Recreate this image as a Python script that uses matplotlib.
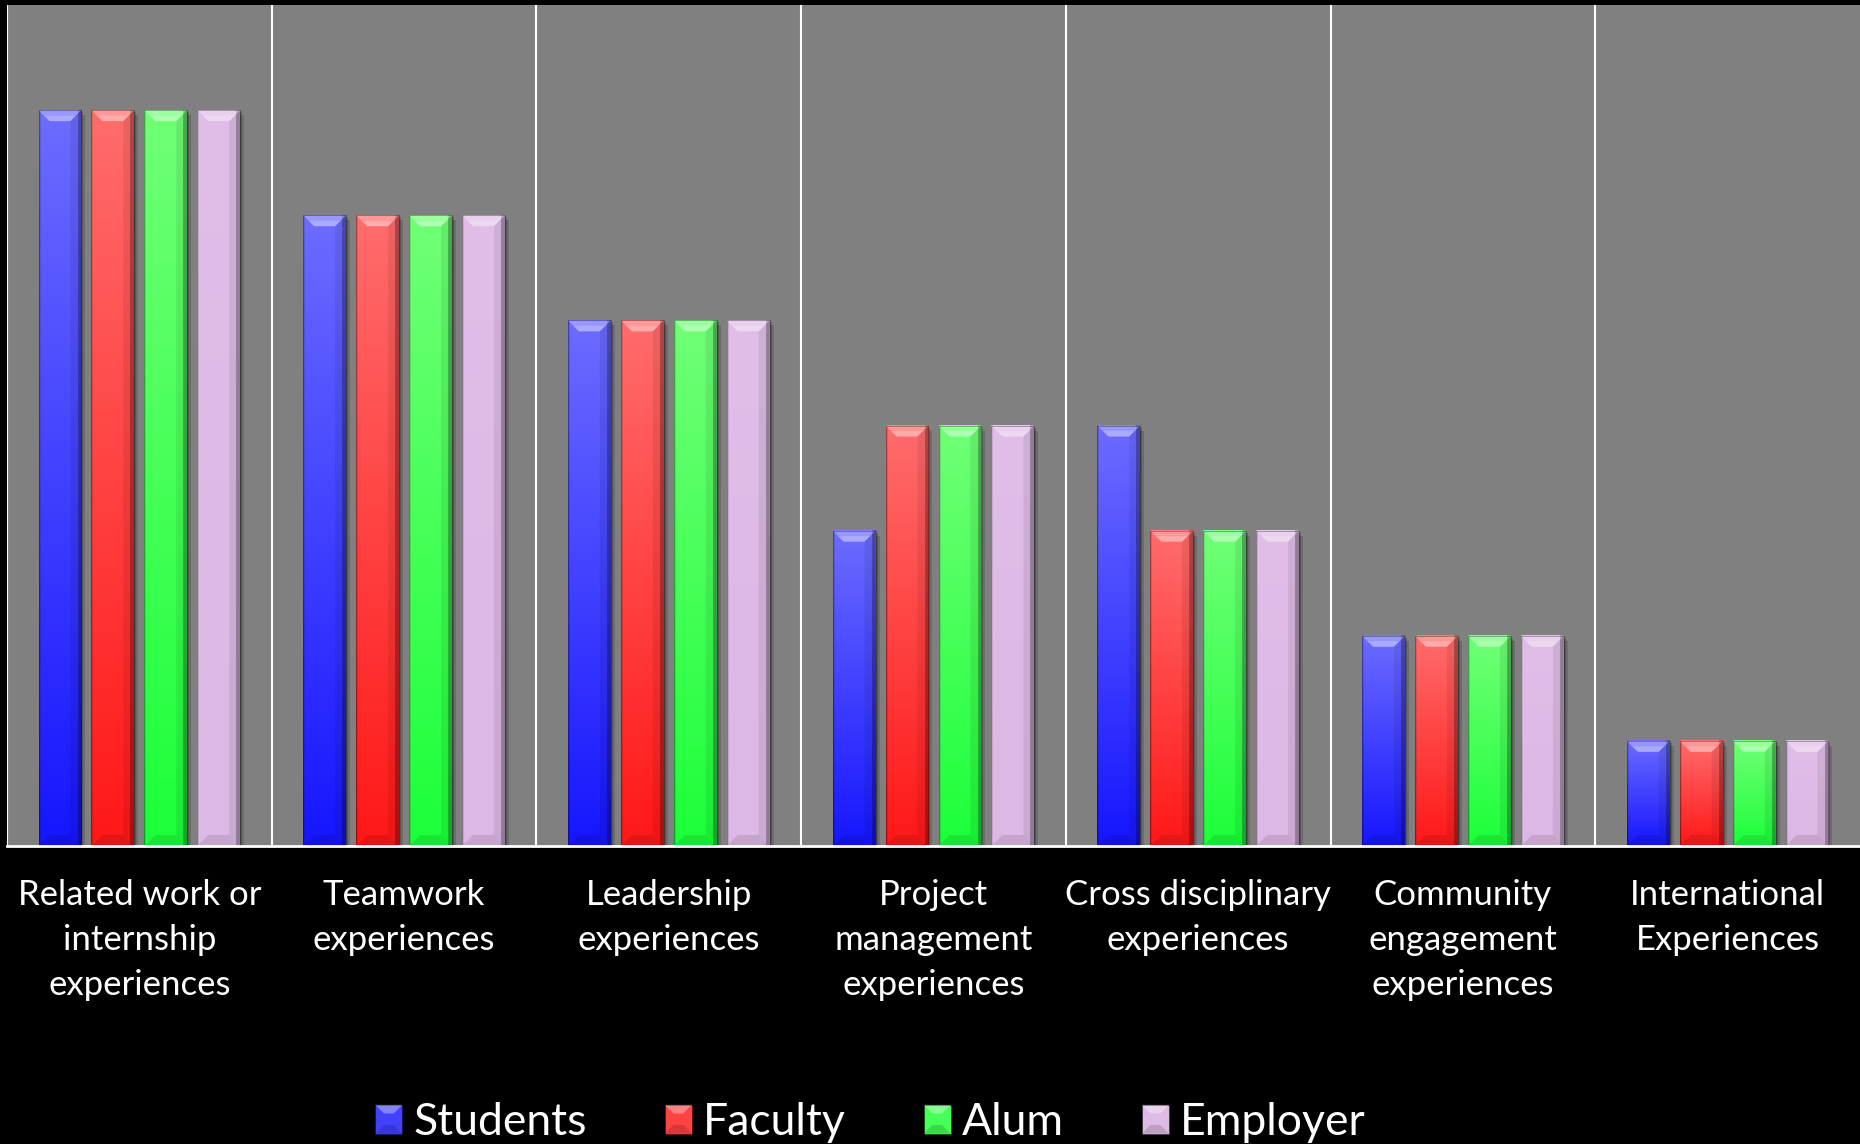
import matplotlib.pyplot as plt
import numpy as np
from matplotlib.patches import Polygon, Rectangle, Patch
from matplotlib.legend_handler import HandlerBase
from matplotlib.transforms import blended_transform_factory

# ranking of each experience type by group
categories = ['Related work or\ninternship\nexperiences', 'Teamwork\nexperiences',
              'Leadership\nexperiences', 'Project\nmanagement\nexperiences',
              'Cross disciplinary\nexperiences', 'Community\nengagement\nexperiences',
              'International\nExperiences']
series = ['Students', 'Faculty', 'Alum', 'Employer']
students = [7, 6, 5, 3, 4, 2, 1]
faculty = [7, 6, 5, 4, 3, 2, 1]
alum = [7, 6, 5, 4, 3, 2, 1]
employer = [7, 6, 5, 4, 3, 2, 1]

# top / bottom colours of the gradient fill
top_colors = [(108, 108, 255), (255, 108, 108), (112, 255, 118), (224, 190, 232)]
bottom_colors = [(22, 22, 255), (255, 24, 24), (28, 255, 58), (220, 184, 228)]

plt.rcParams['font.family'] = ['Lato', 'DejaVu Sans']

W, H = 1860, 1144
fig = plt.figure(figsize=(W / 100, H / 100), dpi=100, facecolor='black')
ax_px = (7, 5, 1860, 846)  # left, top, right, bottom in pixels
ax = fig.add_axes([ax_px[0] / W, 1 - ax_px[3] / H,
                   (ax_px[2] - ax_px[0]) / W, (ax_px[3] - ax_px[1]) / H])
ax.set_facecolor('#808080')
n_cat = len(categories)
ymax = 8
ax.set_xlim(0, n_cat)
ax.set_ylim(0, ymax)

# pixel -> data conversion factors
px_x = n_cat / (ax_px[2] - ax_px[0])
px_y = ymax / (ax_px[3] - ax_px[1])

bar_w = 0.162
offsets = [-0.3, -0.1, 0.1, 0.3]


def draw_bar(x0, h, top, bottom):
    top = np.array(top) / 255
    bottom = np.array(bottom) / 255
    nrow, ncol = 80, 44
    t = np.linspace(0, 1, nrow)[:, None, None]
    img = bottom + (top - bottom) * t
    img = np.repeat(img, ncol, axis=1)
    shade = np.ones(ncol)
    shade[:2] = 0.88
    shade[-4:] = 0.72
    img = img * shade[None, :, None]
    # soft shadow to the right
    ax.add_patch(Rectangle((x0 + 4 * px_x, 0), bar_w, h - 5 * px_y,
                           facecolor='black', alpha=0.15, lw=0, zorder=2))
    ax.add_patch(Rectangle((x0 + 2 * px_x, 0), bar_w, h - 2 * px_y,
                           facecolor='black', alpha=0.2, lw=0, zorder=2))
    ax.imshow(img, extent=[x0, x0 + bar_w, 0, h], origin='lower',
              aspect='auto', interpolation='bilinear', zorder=3)
    dx, dy = 11 * px_x, 11 * px_y
    x1 = x0 + bar_w
    # bevels
    ax.add_patch(Polygon([(x0, h), (x1, h), (x1 - dx, h - dy), (x0 + dx, h - dy)],
                         facecolor='white', alpha=0.3, lw=0, zorder=4))
    ax.add_patch(Polygon([(x0 + 0.5 * dx, h - 0.5 * dy), (x1 - 0.5 * dx, h - 0.5 * dy),
                          (x1 - dx, h - dy), (x0 + dx, h - dy)],
                         facecolor='white', alpha=0.2, lw=0, zorder=4))
    ax.add_patch(Polygon([(x0, 0), (x1, 0), (x1 - dx, dy), (x0 + dx, dy)],
                         facecolor='black', alpha=0.1, lw=0, zorder=4))
    ax.add_patch(Polygon([(x1, 0), (x1, h), (x1 - dx, h - dy), (x1 - dx, dy)],
                         facecolor='black', alpha=0.08, lw=0, zorder=4))
    ax.add_patch(Rectangle((x0, 0), bar_w, h, facecolor='none',
                           edgecolor=(0, 0, 0, 0.35), lw=0.6, zorder=5))


for s, vals in enumerate([students, faculty, alum, employer]):
    for i, v in enumerate(vals):
        draw_bar(i + 0.5 + offsets[s] - bar_w / 2, v, top_colors[s], bottom_colors[s])

# category separators and base line
for i in range(n_cat):
    ax.axvline(i, color='white', lw=1.5, zorder=1)
ax.axhline(0, color='white', lw=2, zorder=6, clip_on=False)

ax.set_xlim(0, n_cat)
ax.set_ylim(0, ymax)
ax.set_xticks([])
ax.set_yticks([])
for sp in ax.spines.values():
    sp.set_visible(False)

trans = blended_transform_factory(ax.transData, fig.transFigure)
for i, lab in enumerate(categories):
    ax.text(i + 0.5, 1 - 879 / H, lab, transform=trans, ha='center', va='top',
            color='white', fontsize=25, linespacing=1.5)


class BevelHandler(HandlerBase):
    def create_artists(self, legend, orig_handle, xdescent, ydescent,
                       width, height, fontsize, trans):
        x0, y0 = -xdescent, -ydescent
        face = orig_handle.get_facecolor()
        b = width * 0.32
        body = Rectangle((x0, y0), width, height, facecolor=face,
                         edgecolor=(0, 0, 0, 0.4), lw=0.6, transform=trans)
        hi = Polygon([(x0, y0 + height), (x0 + width, y0 + height),
                      (x0 + width - b, y0 + height - b), (x0 + b, y0 + height - b)],
                     facecolor='white', alpha=0.35, lw=0, transform=trans)
        lo = Polygon([(x0, y0), (x0 + width, y0),
                      (x0 + width - b, y0 + b), (x0 + b, y0 + b)],
                     facecolor='black', alpha=0.15, lw=0, transform=trans)
        return [body, hi, lo]


handles = [Patch(facecolor=np.array(top_colors[s]) * 0.5 / 255 + np.array(bottom_colors[s]) * 0.5 / 255,
                 label=series[s]) for s in range(len(series))]
fig.legend(handles=handles, loc='lower center', bbox_to_anchor=(0.468, 0.001), ncol=4,
           frameon=False, fontsize=32, handlelength=0.61, handleheight=0.62,
           handletextpad=0.25, columnspacing=1.75, labelcolor='white',
           borderpad=0, borderaxespad=0,
           handler_map={Patch: BevelHandler()})

fig.savefig('out.png', dpi=100, facecolor='black')
